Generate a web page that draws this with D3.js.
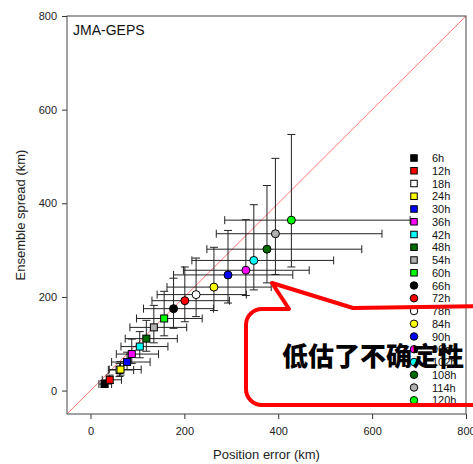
<!DOCTYPE html>
<html><head><meta charset="utf-8">
<script src="https://cdn.jsdelivr.net/npm/d3@7"></script>
<style>body{margin:0;background:#fff}svg{display:block}text{font-family:"Liberation Sans",Arial,sans-serif}</style>
</head><body>
<svg id="c" width="473" height="464"></svg>
<script>
const leads = ["6h","12h","18h","24h","30h","36h","42h","48h","54h","60h","66h","72h","78h","84h","90h","96h","102h","108h","114h","120h"];
const colors = ["#000000","#ff0000","#ffffff","#ffff00","#0000ff","#ff00ff","#00ffff","#006b00","#b0b0b0","#00ff00","#000000","#ff0000","#ffffff","#ffff00","#0000ff","#ff00ff","#00ffff","#006b00","#b0b0b0","#00ff00"];
const shapes = ["square","square","square","square","square","square","square","square","square","square","circle","circle","circle","circle","circle","circle","circle","circle","circle","circle"];
const posError = [30,41,62,64,78,88,105,119,135,157,177,201,225,263,293,331,348,376,394,428];
const spread   = [14,23,44,45,61,78,94,111,135,154,175,192,205,221,247,257,278,302,335,364];
const errLo    = [18,25,38,40,45,55,65,74,84,98,113,131,142,163,177,198,216,248,268,286];
const errHi    = [45,66,92,108,127,145,165,185,205,238,262,296,332,385,431,466,518,578,621,681];
const sprLo    = [8,15,30,33,45,58,70,84,102,117,133,147,158,171,187,203,215,230,248,264];
const sprHi    = [22,33,58,62,82,110,126,150,182,212,240,264,283,306,342,365,397,438,496,547];
const ticks = [0,200,400,600,800];
const title = "JMA-GEPS";
const xTitle = "Position error (km)";
const yTitle = "Ensemble spread (km)";
const callout = "低估了不确定性";

const svg = d3.select("#c");
const L=67,R=466,T=16,B=414;
const x = d3.scaleLinear([-50,800],[L,R]);
const y = d3.scaleLinear([-50,800],[B,T]);

// diagonal
svg.append("line").attr("x1",x(-50)).attr("y1",y(-50)).attr("x2",x(800)).attr("y2",y(800))
  .attr("stroke","#ff7878").attr("stroke-width",1);

// axes
const ax = svg.append("g").attr("transform",`translate(0,${B})`)
  .call(d3.axisBottom(x).tickValues(ticks).tickSize(5).tickPadding(8));
const ay = svg.append("g").attr("transform",`translate(${L},0)`)
  .call(d3.axisLeft(y).tickValues(ticks).tickSize(5).tickPadding(5));
[ax,ay].forEach(g=>{g.select(".domain").remove();
  g.selectAll("line").attr("stroke","#333");
  g.selectAll("text").attr("font-size",11).attr("fill","#222").style("font-family","Liberation Sans, Arial, sans-serif");});

// frame
svg.append("rect").attr("x",L).attr("y",T).attr("width",R-L).attr("height",B-T)
  .attr("fill","none").attr("stroke","#444").attr("stroke-width",1);

svg.append("text").attr("x",73).attr("y",35).attr("font-size",14).attr("fill","#111").text(title);
svg.append("text").attr("x",(L+R)/2).attr("y",459).attr("text-anchor","middle").attr("font-size",13).attr("fill","#222").text(xTitle);
svg.append("text").attr("transform",`translate(25,${(T+B)/2}) rotate(-90)`).attr("text-anchor","middle").attr("font-size",13).attr("fill","#222").text(yTitle);

const data = leads.map((l,i)=>({l,c:colors[i],s:shapes[i],x:posError[i],y:spread[i],xl:errLo[i],xh:errHi[i],yl:sprLo[i],yh:sprHi[i]}));
const eb = svg.append("g").attr("stroke","#222").attr("stroke-width",1).attr("fill","none");
const cap=4;
data.forEach(d=>{
  const px=x(d.x), py=y(d.y);
  eb.append("line").attr("x1",x(d.xl)).attr("x2",x(d.xh)).attr("y1",py).attr("y2",py);
  eb.append("line").attr("x1",x(d.xl)).attr("x2",x(d.xl)).attr("y1",py-cap).attr("y2",py+cap);
  eb.append("line").attr("x1",x(d.xh)).attr("x2",x(d.xh)).attr("y1",py-cap).attr("y2",py+cap);
  eb.append("line").attr("x1",px).attr("x2",px).attr("y1",y(d.yl)).attr("y2",y(d.yh));
  eb.append("line").attr("x1",px-cap).attr("x2",px+cap).attr("y1",y(d.yl)).attr("y2",y(d.yl));
  eb.append("line").attr("x1",px-cap).attr("x2",px+cap).attr("y1",y(d.yh)).attr("y2",y(d.yh));
});
function mark(g,s,c,cx,cy,size){
  if(s==="square") g.append("rect").attr("x",cx-size/2).attr("y",cy-size/2).attr("width",size).attr("height",size)
    .attr("fill",c).attr("stroke","#000").attr("stroke-width",1);
  else g.append("circle").attr("cx",cx).attr("cy",cy).attr("r",size/2+0.5)
    .attr("fill",c).attr("stroke","#000").attr("stroke-width",1);
}
const mk = svg.append("g");
data.forEach(d=>mark(mk,d.s,d.c,x(d.x),y(d.y),7));

// legend
const lg = svg.append("g");
data.forEach((d,i)=>{
  const ly = 158 + i*12.75;
  mark(lg,d.s,d.c,414,ly,6.5);
  lg.append("text").attr("x",432).attr("y",ly+4).attr("font-size",11).attr("fill","#111").text(d.l);
});

// callout
const p = d3.path();
p.moveTo(289,309); p.lineTo(272,283); p.lineTo(353,308); p.lineTo(490,306);
p.lineTo(490,405); p.lineTo(262,405); p.arcTo(246,405,246,389,16); p.lineTo(246,325);
p.arcTo(246,309,262,309,16); p.closePath();
svg.append("path").attr("d",p.toString()).attr("fill","none").attr("stroke","#ff0000").attr("stroke-width",4).attr("stroke-linejoin","round");
svg.append("text").attr("x",282).attr("y",366).attr("font-size",26).attr("font-weight",900)
  .style("font-family","'Noto Sans CJK SC', sans-serif").attr("fill","#000").text(callout);
</script>
</body></html>
